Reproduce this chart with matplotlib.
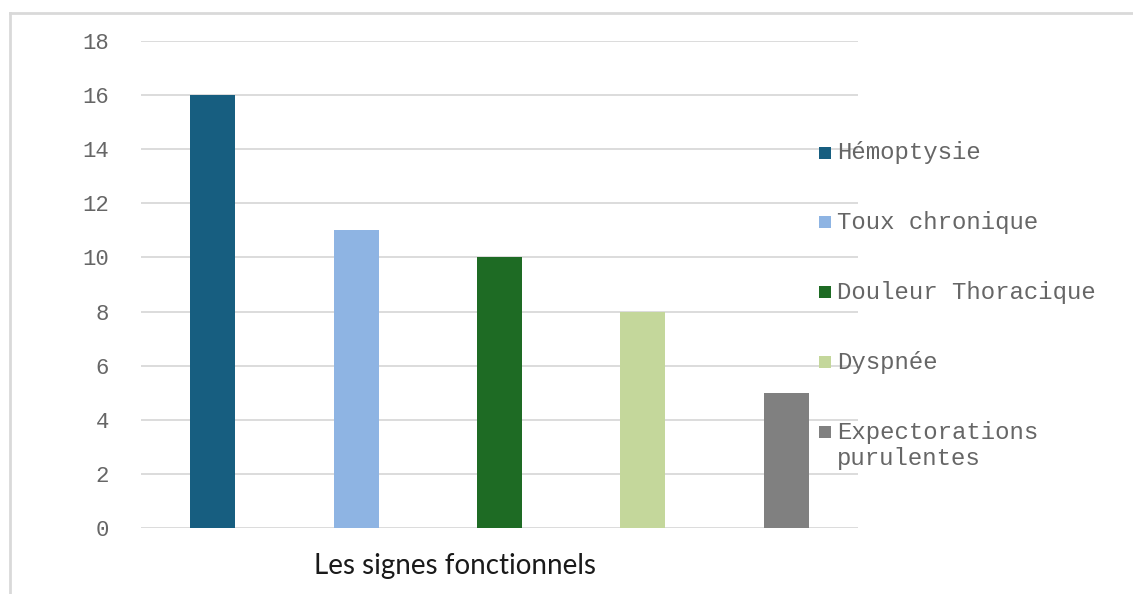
import matplotlib
matplotlib.use("Agg")
import matplotlib.pyplot as plt
from matplotlib.patches import Rectangle
from matplotlib.lines import Line2D

categories = ["Hémoptysie", "Toux chronique", "Douleur Thoracique", "Dyspnée",
              "Expectorations\npurulentes"]
values = [16, 11, 10, 8, 5]
colors = ["#175E80", "#8EB4E3", "#1E6B24", "#C4D79B", "#808080"]
yticks = [0, 2, 4, 6, 8, 10, 12, 14, 16, 18]
xlabel = "Les signes fonctionnels"

W, H = 1133, 594
fig = plt.figure(figsize=(W / 100, H / 100), dpi=100)
fig.patch.set_facecolor("white")

def fx(px):
    return px / W

def fy(py):
    return 1 - py / H

ax = fig.add_axes([fx(141), fy(528), fx(858) - fx(141), fy(41) - fy(528)])
x = list(range(len(values)))
ax.bar(x, values, width=0.315, color=colors, zorder=3)
ax.set_xlim(-0.5, len(values) - 0.5)
ax.set_ylim(0, 18)
ax.set_yticks(yticks)
ax.set_yticklabels([str(t) for t in yticks])
ax.set_xticks([])
ax.grid(axis="y", color="#D9D9D9", linewidth=1.3, zorder=0)
for s in ax.spines.values():
    s.set_visible(False)
ax.tick_params(axis="y", length=0, pad=23, labelsize=16, labelcolor="#666666")
for lab in ax.get_yticklabels():
    lab.set_fontfamily("Liberation Mono")

# figure border (top and left visible)
fig.add_artist(Line2D([fx(10), 1.0], [fy(13), fy(13)], color="#D9D9D9", linewidth=2))
fig.add_artist(Line2D([fx(10), fx(10)], [fy(13), 0.0], color="#D9D9D9", linewidth=2))

# legend (manual)
legend_y = [153, 222, 292, 362, 432]
for i, (lab, col) in enumerate(zip(categories, colors)):
    yc = legend_y[i]
    fig.add_artist(Rectangle((fx(819), fy(yc + 6)), fx(12), 12 / H, facecolor=col,
                             edgecolor="none", zorder=5))
    for j, ln in enumerate(lab.split("\n")):
        fig.text(fx(837), fy(yc + 27 * j), ln, family="Liberation Mono", fontsize=17.3,
                 color="#666666", ha="left", va="center", zorder=6)

fig.text(fx(455), fy(566), xlabel, family="Lato", fontsize=20, color="#1a1a1a",
         ha="center", va="center")

fig.savefig("out.png", dpi=100, facecolor="white")
